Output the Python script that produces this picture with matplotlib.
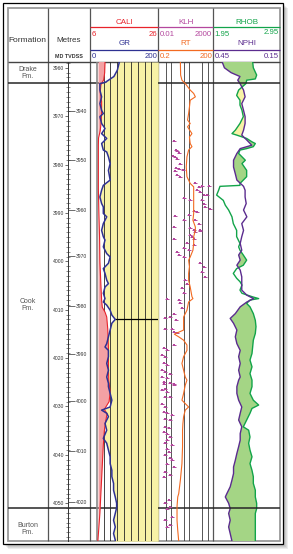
import numpy as np
import matplotlib.pyplot as plt
from matplotlib.patches import Rectangle
from matplotlib.ticker import MultipleLocator, FuncFormatter

W, H = 293, 554
plt.rcParams["font.family"] = ["Liberation Sans", "DejaVu Sans"]

# ---------------- data (depths in m MD) ----------------
depth_top, depth_base = 3958.8, 4057.8

formation_names = ["Drake\nFm.", "Cook\nFm.", "Burton\nFm."]
formation_label_depth = [3961.0, 4009.0, 4055.3]
formation_tops = [3963.2, 4051.0]

md_ticks = [3960, 3970, 3980, 3990, 4000, 4010, 4020, 4030, 4040, 4050]
tvdss_labels = ["3940", "3950", "3960", "3970", "3980", "3990", "4000", "4010", "4020"]
tvdss_md = [3969.0, 3979.0, 3989.3, 3998.9, 4009.3, 4019.1, 4028.9, 4039.1, 4049.7]

marker_depth = 4011.9

gr_depth = [3958.8, 3960.5, 3961.8, 3963.0, 3963.25, 3964.6, 3966.0, 3967.4, 3968.8, 3969.45,
            3970.1, 3971.5, 3972.55, 3973.6, 3974.6, 3975.65, 3977.0, 3977.4, 3978.4, 3979.8,
            3981.2, 3983.2, 3984.3, 3985.3, 3986.7, 3988.05, 3988.75, 3990.1, 3990.8, 3992.2,
            3993.6, 3994.9, 3995.6, 3997.0, 3998.4, 3999.1, 4000.4, 4001.5, 4002.5, 4003.9,
            4004.6, 4005.3, 4006.6, 4007.7, 4008.4, 4009.05, 4010.1, 4011.1, 4012.0, 4012.8,
            4014.2, 4015.6, 4017.0, 4017.7, 4018.4, 4019.7, 4021.1, 4022.5, 4023.9, 4025.2,
            4025.9, 4027.3, 4028.7, 4030.1, 4030.75, 4031.4, 4032.1, 4033.5, 4034.9, 4036.6,
            4037.6, 4039.0, 4040.4, 4041.8, 4043.2, 4044.5, 4045.9, 4047.3, 4048.7, 4050.0,
            4050.9, 4052.1, 4053.5, 4054.9, 4056.25, 4057.6, 4057.85]
gr = [86, 80, 70, 45, 29, 29, 34, 29, 34, 39,
      29, 34, 44, 34, 49, 34, 39, 49, 54, 59,
      54, 59, 39, 34, 29, 34, 39, 39, 49, 39,
      34, 39, 44, 39, 49, 59, 54, 39, 44, 49,
      54, 44, 39, 44, 39, 49, 59, 64, 74, 64,
      59, 54, 49, 44, 54, 54, 49, 54, 49, 54,
      54, 59, 64, 59, 34, 49, 54, 44, 49, 39,
      49, 54, 59, 59, 64, 64, 69, 69, 74, 78,
      78, 74, 69, 74, 69, 74, 74]

bit_size = 8.5
cali_depth = [3958.8, 3961.0, 3962.5, 3963.5, 3965.0, 3967.0, 3969.0, 3971.0, 3973.0, 3974.5,
              3976.0, 3980.0, 3985.0, 3990.0, 3995.0, 4000.0, 4005.0, 4008.0, 4009.5, 4010.5,
              4011.5, 4014.0, 4018.0, 4022.0, 4024.6, 4027.0, 4029.0, 4030.6, 4031.5, 4033.0,
              4035.0, 4038.0, 4045.0, 4052.0, 4057.85]
cali = [10.4, 10.3, 10.0, 9.2, 9.0, 9.4, 9.4, 9.3, 9.0, 8.5,
        8.45, 8.45, 8.45, 8.6, 8.8, 8.9, 9.2, 9.4, 9.6, 10.4,
        10.9, 11.2, 11.4, 11.4, 11.5, 11.9, 11.6, 10.2, 11.0, 10.6,
        10.2, 9.9, 9.4, 8.9, 8.3]

rt_depth = [3958.8, 3961.5, 3962.56, 3963.25, 3964.6, 3965.3, 3966.0, 3966.7, 3968.1, 3969.45,
            3970.8, 3971.5, 3972.2, 3973.6, 3974.3, 3975.65, 3976.3, 3977.0, 3978.4, 3980.5,
            3982.5, 3983.9, 3984.6, 3986.0, 3988.05, 3990.1, 3991.5, 3992.9, 3993.55, 3994.9,
            3996.3, 3997.7, 3999.1, 3999.75, 4001.1, 4002.5, 4003.9, 4005.3, 4007.3, 4007.7,
            4008.4, 4010.1, 4011.5, 4012.8, 4014.2, 4015.05, 4015.6, 4016.3, 4017.3, 4018.4,
            4019.7, 4021.1, 4022.5, 4023.9, 4024.55, 4025.6, 4027.3, 4028.7, 4029.4, 4030.1,
            4030.75, 4032.1, 4033.5, 4034.9, 4038.3, 4041.8, 4045.2, 4048.0, 4048.7, 4050.7,
            4053.5, 4055.6, 4057.85]
rt = [3.2, 3.3, 3.9, 5.9, 11, 17, 21, 11, 10, 9.0,
      7.9, 11, 7.9, 13.7, 10, 11, 13.7, 9.0, 7.3, 6.7,
      7.3, 11, 17, 17, 17, 17, 15.5, 21, 21, 17,
      17, 15.5, 11, 9.0, 10, 9.0, 9.0, 11, 13.7, 15.5,
      9.0, 7.3, 4.8, 4.8, 4.8, 1.5, 2.6, 4.8, 7.3, 7.3,
      4.8, 3.9, 4.8, 5.9, 7.3, 5.9, 4.8, 3.9, 5.9, 9.0,
      5.9, 4.8, 4.4, 4.2, 4.2, 3.9, 3.2, 2.6, 2.3, 2.1,
      2.1, 2.3, 2.6]

klh_depth = [3975.1, 3977.0, 3977.2, 3977.7, 3978.3, 3978.5, 3978.8, 3979.8, 3980.8, 3981.0,
             3981.2, 3981.3, 3982.2, 3982.5, 3983.9, 3984.6, 3984.5, 3984.5, 3985.3, 3985.6,
             3986.3, 3986.3, 3987.0, 3987.4, 3987.4, 3988.05, 3988.7, 3989.1, 3989.6, 3989.8,
             3990.5, 3990.7, 3991.5, 3991.5, 3992.2, 3992.9, 3993.2, 3993.6, 3993.6, 3994.6,
             3994.9, 3995.3, 3995.3, 3993.9, 3993.8, 3996.3, 3996.65, 3997.3, 3997.7, 3998.0,
             3998.7, 3999.1, 4000.4, 4001.1, 4002.2, 4003.2, 4003.9, 4004.6, 4005.6, 4006.6,
             4007.7, 4008.0, 4008.7, 4009.7, 4010.8, 4011.5, 4011.8, 4012.2, 4013.9, 4013.9,
             4014.6, 4014.9, 4017.3, 4018.0, 4018.4, 4019.4, 4019.7, 4021.1, 4021.45, 4022.5,
             4022.8, 4023.2, 4023.9, 4024.2, 4025.25, 4025.25, 4026.3, 4024.9, 4025.2, 4025.6,
             4026.6, 4027.0, 4028.0, 4028.0, 4029.4, 4030.1, 4031.1, 4031.4, 4031.8, 4032.5,
             4032.8, 4034.2, 4034.5, 4035.2, 4035.6, 4036.3, 4037.0, 4037.6, 4038.0, 4038.7,
             4039.4, 4040.1, 4040.7, 4041.1, 4041.8, 4042.5, 4043.5, 4044.2, 4044.5, 4049.4,
             4050.0, 4050.7, 4051.1, 4052.8, 4053.5, 4054.5, 4054.9]
klh = [0.30, 0.52, 0.68, 0.90, 0.24, 0.40, 0.68, 1.3, 0.52, 0.90,
       2.2, 0.43, 0.62, 1.3, 36, 75, 158, 690, 52, 109,
       229, 480, 2.7, 12, 158, 229, 330, 1000, 25, 52,
       8.3, 0.43, 2.7, 36, 75, 0.30, 12, 25, 109, 12,
       17, 0.30, 25, 36, 109, 5.7, 25, 2.7, 8.3, 0.62,
       0.90, 2.7, 109, 229, 158, 330, 4.0, 5.7, 1.9, 2.7,
       0.068, 0.90, 1.3, 1.9, 0.30, 0.14, 0.047, 0.52, 0.047, 0.21,
       0.30, 0.62, 0.30, 0.033, 0.068, 0.023, 0.047, 0.033, 0.068, 0.023,
       0.047, 0.14, 0.023, 0.068, 0.033, 0.30, 0.047, 0.033, 0.14, 0.30,
       0.023, 0.068, 0.047, 0.14, 0.023, 0.047, 0.033, 0.068, 0.21, 0.047,
       0.14, 0.047, 0.099, 0.033, 0.068, 0.14, 0.068, 0.047, 0.21, 0.068,
       0.099, 0.047, 0.14, 0.21, 0.068, 0.30, 0.047, 0.14, 0.033, 0.099,
       0.047, 0.14, 0.068, 0.21, 0.047, 0.14, 0.068]

rhob_depth = [3958.8, 3960.0, 3961.5, 3962.3, 3962.56, 3963.25, 3964.6, 3965.7, 3966.7, 3967.7,
              3968.8, 3970.1, 3971.5, 3972.9, 3973.6, 3973.9, 3974.6, 3975.3, 3975.65, 3976.3,
              3976.7, 3977.0, 3977.7, 3979.1, 3979.8, 3981.2, 3982.5, 3983.9, 3984.3, 3984.5,
              3985.3, 3986.3, 3987.4, 3988.4, 3989.4, 3990.8, 3992.2, 3993.6, 3994.9, 3996.3,
              3997.0, 3997.7, 3998.7, 3999.75, 4000.8, 4001.5, 4002.5, 4003.5, 4004.2, 4004.9,
              4005.95, 4006.6, 4007.3, 4007.7, 4008.0, 4008.7, 4009.4, 4010.8, 4012.2, 4013.5,
              4014.9, 4016.3, 4017.7, 4019.05, 4020.4, 4021.8, 4023.2, 4024.55, 4025.9, 4027.3,
              4028.7, 4029.7, 4030.4, 4031.4, 4032.8, 4034.2, 4034.9, 4036.3, 4037.6, 4039.0,
              4040.4, 4041.8, 4043.2, 4044.5, 4045.9, 4047.3, 4048.7, 4050.0, 4051.1, 4052.1,
              4053.5, 4054.9, 4056.25, 4057.85]
rhob = [2.54, 2.55, 2.60, 2.58, 2.45, 2.44, 2.33, 2.30, 2.35, 2.35,
        2.38, 2.40, 2.35, 2.28, 2.23, 2.30, 2.45, 2.53, 2.58, 2.55,
        2.45, 2.35, 2.33, 2.43, 2.38, 2.45, 2.45, 2.35, 2.35, 2.05,
        2.03, 2.00, 2.10, 2.13, 2.18, 2.23, 2.25, 2.30, 2.30, 2.35,
        2.33, 2.35, 2.40, 2.45, 2.40, 2.30, 2.25, 2.30, 2.35, 2.38,
        2.35, 2.38, 2.53, 2.63, 2.50, 2.45, 2.50, 2.55, 2.58, 2.59,
        2.58, 2.55, 2.54, 2.53, 2.50, 2.53, 2.50, 2.53, 2.53, 2.50,
        2.55, 2.63, 2.53, 2.50, 2.45, 2.40, 2.48, 2.50, 2.48, 2.50,
        2.53, 2.50, 2.53, 2.55, 2.55, 2.58, 2.58, 2.60, 2.60, 2.58,
        2.58, 2.58, 2.58, 2.58]

nphi_depth = [3958.8, 3960.0, 3961.0, 3961.8, 3962.56, 3963.25, 3964.6, 3966.0, 3967.4, 3968.8,
              3970.1, 3971.5, 3972.9, 3973.9, 3974.95, 3976.0, 3976.7, 3977.7, 3979.1, 3980.5,
              3981.9, 3983.2, 3984.5, 3985.3, 3986.7, 3988.05, 3989.4, 3990.8, 3992.2, 3993.6,
              3994.9, 3996.3, 3997.7, 3998.7, 3999.75, 4000.8, 4001.8, 4003.2, 4004.6, 4005.95,
              4007.0, 4007.7, 4008.4, 4009.4, 4010.8, 4011.8, 4012.8, 4014.2, 4015.6, 4017.0,
              4018.4, 4019.7, 4021.1, 4022.5, 4023.9, 4024.55, 4025.9, 4027.3, 4028.7, 4030.1,
              4031.4, 4032.8, 4034.2, 4035.6, 4036.95, 4038.3, 4039.7, 4041.1, 4042.5, 4043.85,
              4045.2, 4046.6, 4048.0, 4048.7, 4050.0, 4051.1, 4052.1, 4053.5, 4054.9, 4056.25,
              4057.85]
nphi = [0.41, 0.40, 0.37, 0.33, 0.34, 0.33, 0.314, 0.307, 0.322, 0.314,
        0.307, 0.307, 0.314, 0.322, 0.299, 0.277, 0.329, 0.344, 0.359, 0.359,
        0.351, 0.344, 0.314, 0.307, 0.307, 0.302, 0.314, 0.299, 0.322, 0.314,
        0.322, 0.329, 0.322, 0.336, 0.329, 0.344, 0.329, 0.322, 0.322, 0.322,
        0.299, 0.269, 0.299, 0.329, 0.351, 0.374, 0.359, 0.344, 0.351, 0.344,
        0.329, 0.336, 0.329, 0.336, 0.329, 0.336, 0.344, 0.344, 0.336, 0.322,
        0.329, 0.336, 0.322, 0.329, 0.329, 0.336, 0.344, 0.351, 0.359, 0.359,
        0.366, 0.374, 0.389, 0.396, 0.381, 0.374, 0.381, 0.374, 0.381, 0.374,
        0.366]
yellow_base = 3984.0  # density/neutron crossover shaded only above this depth

# ---------------- style ----------------
C_RED, C_PINK = "#e8232b", "#f3a1a4"
C_BLUE = "#2e3192"
C_YEL = "#f8f2a6"
C_MAG, C_ORA = "#b4479e", "#f26a21"
C_GRN, C_GFILL = "#12a44a", "#a4d585"
C_PUR = "#5b2c8f"
C_LINE = "#262626"

fig = plt.figure(figsize=(W / 100, H / 100), dpi=100)


def box(x0, x1, y0=62, y1=541):
    return [x0 / W, 1 - y1 / H, (x1 - x0) / W, (y1 - y0) / H]


bg = fig.add_axes([0, 0, 1, 1])
bg.set_xlim(0, W)
bg.set_ylim(H, 0)
bg.axis("off")

# shadow, outer frame, inner frame
for i in range(1, 6):
    bg.add_patch(Rectangle((3 + i, 3 + i), 280, 541, facecolor="k", alpha=0.07, lw=0, zorder=0))
bg.add_patch(Rectangle((3, 3), 280, 541, facecolor="white", edgecolor="k", lw=0.9, zorder=1))
bg.add_patch(Rectangle((8, 8), 272, 533, fill=False, edgecolor="#9a9a9a", lw=1.3, zorder=2))
bg.vlines([47.7, 90, 158.3, 213.3], 8, 541, color="#555555", lw=0.9, zorder=3)
bg.hlines(62, 8, 280, color="#444444", lw=1.0, zorder=3)

# header text
hk = dict(zorder=4, va="center")
bg.text(27.8, 40.5, "Formation", ha="center", fontsize=6, color="#333333", **hk)
bg.text(68.5, 40, "Metres", ha="center", fontsize=5.8, color="#333333", **hk)
bg.text(68.5, 57, "MD TVDSS", ha="center", fontsize=3.9, color="#333333", fontweight="bold", **hk)

tracks = [
    (90, 158.3, ("CALI", "6", "26", C_RED), ("GR", "0", "200", C_BLUE)),
    (158.3, 213.3, ("KLH", "0.01", "2000", C_MAG), ("RT", "0.2", "200", C_ORA)),
    (213.3, 280, ("RHOB", "1.95", "2.95", C_GRN), ("NPHI", "0.45", "0.15", C_PUR)),
]
for x0, x1, top, bot in tracks:
    xc = (x0 + x1) / 2
    for (name, lo, hi, col), yname, yline, ynum in ((top, 22.5, 27, 35), (bot, 43.5, 50, 56.5)):
        bg.text(xc, yname, name, ha="center", fontsize=5.8, color=col, **hk)
        bg.hlines(yline, x0, x1, color=col, lw=0.9, zorder=4)
        bg.text(x0 + 1.5, ynum, lo, ha="left", fontsize=5.6, color=col, **hk)
        bg.text(x1 - 1.2, ynum - (2.5 if hi == "2.95" else 0), hi, ha="right",
                fontsize=5.6, color=col, **hk)

# ---------------- formation + depth columns ----------------
axf = fig.add_axes(box(8, 90))
axf.set_ylim(depth_base, depth_top)
axf.set_xlim(0, 1)
axf.axis("off")
for d in formation_tops:
    axf.axhline(d, color=C_LINE, lw=1.1)
for name, d in zip(formation_names, formation_label_depth):
    axf.text(0.242, d, name, ha="center", va="center", fontsize=5, color="#555555",
             linespacing=1.05)

axd = fig.add_axes([68.3 / W, 1 - 541 / H, 1e-5, 479 / H])
axd.set_ylim(depth_base, depth_top)
axd.patch.set_visible(False)
for s in ("top", "right", "bottom"):
    axd.spines[s].set_visible(False)
axd.spines["left"].set_linewidth(0.7)
axd.spines["left"].set_color("#333333")
axd.set_xticks([])
axd.set_yticks(md_ticks)
axd.yaxis.set_minor_locator(MultipleLocator(1))
axd.yaxis.set_major_formatter(FuncFormatter(lambda v, p: f"{v:.0f}"))
axd.tick_params(axis="y", which="major", direction="out", length=2.2, width=0.5,
                labelsize=3.6, pad=0.6, colors="#333333")
axd.tick_params(axis="y", which="minor", direction="inout", length=2.6, width=0.4,
                colors="#333333")

axt = fig.add_axes([68.3 / W - 1e-5, 1 - 541 / H, 1e-5, 479 / H])
axt.set_ylim(depth_base, depth_top)
axt.patch.set_visible(False)
for s in axt.spines.values():
    s.set_visible(False)
axt.set_xticks([])
axt.yaxis.tick_right()
axt.set_yticks(tvdss_md)
axt.set_yticklabels(tvdss_labels)
axt.tick_params(axis="y", direction="out", length=5, width=0.5, labelsize=3.6, pad=0.5,
                colors="#333333")

# ---------------- track 1: CALI / GR ----------------
ax1 = fig.add_axes(box(90, 158.3))
ax1.set_xlim(0, 200)
ax1.set_ylim(depth_base, depth_top)
ax1.axis("off")
for d in formation_tops:
    ax1.axhline(d, color=C_LINE, lw=1.1, zorder=1)
ax1.fill_betweenx(gr_depth, gr, 200, color=C_YEL, lw=0, zorder=2)
ax1.axvline(20, color="#8a8a8a", lw=1.2, zorder=3)
for g in range(40, 200, 20):
    ax1.axvline(g, color=C_LINE, lw=0.6, zorder=3)

ax1c = ax1.twiny()
ax1c.set_xlim(6, 26)
ax1c.set_ylim(depth_base, depth_top)
ax1c.axis("off")
cali_a = np.array(cali)
ax1c.fill_betweenx(cali_depth, bit_size, cali_a, where=cali_a > bit_size, interpolate=True,
                   color=C_PINK, lw=0)
ax1c.plot(cali, cali_depth, color=C_RED, lw=0.8)

ax1g = ax1.twiny()
ax1g.set_xlim(0, 200)
ax1g.set_ylim(depth_base, depth_top)
ax1g.axis("off")
ax1g.hlines(marker_depth, np.interp(marker_depth, gr_depth, gr), 200, color="k", lw=0.9)
ax1g.plot(gr, gr_depth, color=C_BLUE, lw=1.1)

# ---------------- track 2: KLH / RT ----------------
ax2 = fig.add_axes(box(158.3, 213.3))
ax2.set_xscale("log")
ax2.set_xlim(0.2, 200)
ax2.set_ylim(depth_base, depth_top)
ax2.axis("off")
for g in (0.5, 1, 5, 10, 50, 100):
    ax2.axvline(g, color="#3a3a3a", lw=0.6, zorder=1)
for d in formation_tops:
    ax2.axhline(d, color=C_LINE, lw=1.1, zorder=2)

ax2k = ax2.twiny()
ax2k.set_xscale("log")
ax2k.set_xlim(0.01, 2000)
ax2k.set_ylim(depth_base, depth_top)
ax2k.axis("off")
ax2k.plot(klh, klh_depth, ls="none", marker="s", ms=1.7, mew=0, color=C_MAG)
ax2k.plot(klh, klh_depth, ls="none", marker="_", ms=3.2, mew=0.7, color=C_MAG)

ax2r = ax2.twiny()
ax2r.set_xscale("log")
ax2r.set_xlim(0.2, 200)
ax2r.set_ylim(depth_base, depth_top)
ax2r.axis("off")
ax2r.plot(rt, rt_depth, color=C_ORA, lw=0.8)

# ---------------- track 3: RHOB / NPHI ----------------
ax3 = fig.add_axes(box(213.3, 280))
ax3.set_xlim(1.95, 2.95)
ax3.set_ylim(depth_base, depth_top)
ax3.axis("off")
fd = np.linspace(depth_top, depth_base, 3000)
r_i = np.interp(fd, rhob_depth, rhob)
n_on_r = np.interp(np.interp(fd, nphi_depth, nphi), [0.15, 0.45], [2.95, 1.95])
ax3.fill_betweenx(fd, n_on_r, r_i, where=r_i >= n_on_r, interpolate=True, color=C_GFILL, lw=0)
ax3.fill_betweenx(fd, r_i, n_on_r, where=(r_i < n_on_r) & (fd < yellow_base), interpolate=True,
                  color=C_YEL, lw=0)
ax3.plot(rhob, rhob_depth, color=C_GRN, lw=1.0)

ax3n = ax3.twiny()
ax3n.set_xlim(0.45, 0.15)
ax3n.set_ylim(depth_base, depth_top)
ax3n.axis("off")
ax3n.plot(nphi, nphi_depth, color=C_PUR, lw=1.0)
for d in formation_tops:
    ax3n.axhline(d, color=C_LINE, lw=1.1)

fig.savefig("out.png", dpi=100)
plt.close(fig)
